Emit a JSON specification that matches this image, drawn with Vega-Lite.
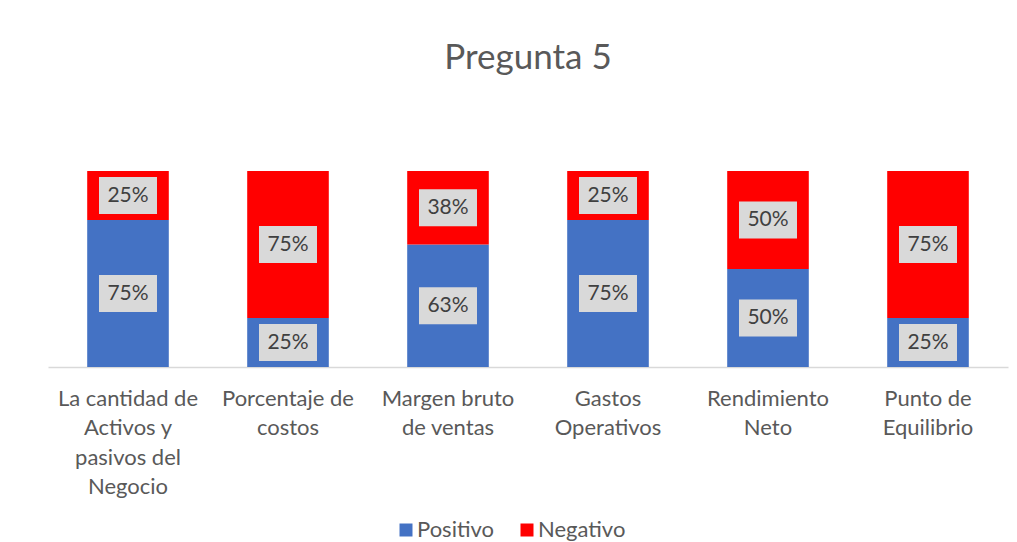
{
  "$schema": "https://vega.github.io/schema/vega-lite/v6.json",
  "autosize": {"type": "none"},
  "width": 960,
  "height": 196,
  "padding": {"left": 48, "top": 171, "right": 9, "bottom": 175},
  "background": "white",
  "title": {"text": "Pregunta 5", "font": "Lato", "fontSize": 35, "fontWeight": "normal", "color": "#595959", "anchor": "middle", "baseline": "alphabetic", "offset": 67},
  "data": {"values": [
    {"categoria": "La cantidad de Activos y pasivos del Negocio", "serie": "Positivo", "valor": 0.75},
    {"categoria": "La cantidad de Activos y pasivos del Negocio", "serie": "Negativo", "valor": 0.25},
    {"categoria": "Porcentaje de costos", "serie": "Positivo", "valor": 0.25},
    {"categoria": "Porcentaje de costos", "serie": "Negativo", "valor": 0.75},
    {"categoria": "Margen bruto de ventas", "serie": "Positivo", "valor": 0.625},
    {"categoria": "Margen bruto de ventas", "serie": "Negativo", "valor": 0.375},
    {"categoria": "Gastos Operativos", "serie": "Positivo", "valor": 0.75},
    {"categoria": "Gastos Operativos", "serie": "Negativo", "valor": 0.25},
    {"categoria": "Rendimiento Neto", "serie": "Positivo", "valor": 0.5},
    {"categoria": "Rendimiento Neto", "serie": "Negativo", "valor": 0.5},
    {"categoria": "Punto de Equilibrio", "serie": "Positivo", "valor": 0.25},
    {"categoria": "Punto de Equilibrio", "serie": "Negativo", "valor": 0.75}
  ]},
  "transform": [
    {"stack": "valor", "groupby": ["categoria"], "sort": [{"field": "serie", "order": "descending"}], "as": ["v0", "v1"]},
    {"calculate": "(datum.v0 + datum.v1) / 2", "as": "vmid"}
  ],
  "encoding": {
    "x": {
      "field": "categoria", "type": "nominal", "sort": null,
      "scale": {"paddingInner": 0.49, "paddingOuter": 0.245},
      "axis": {
        "title": null, "labelAngle": 0, "ticks": false,
        "domainColor": "#d9d9d9", "domainWidth": 1.5,
        "labelFont": "Lato", "labelFontSize": 22, "labelColor": "#595959",
        "labelLineHeight": 29.5, "labelPadding": 21, "labelBaseline": "top",
        "labelExpr": "datum.label == 'La cantidad de Activos y pasivos del Negocio' ? ['La cantidad de','Activos y','pasivos del','Negocio'] : datum.label == 'Porcentaje de costos' ? ['Porcentaje de','costos'] : datum.label == 'Margen bruto de ventas' ? ['Margen bruto','de ventas'] : datum.label == 'Gastos Operativos' ? ['Gastos','Operativos'] : datum.label == 'Rendimiento Neto' ? ['Rendimiento','Neto'] : ['Punto de','Equilibrio']"
      }
    }
  },
  "layer": [
    {
      "mark": {"type": "bar"},
      "encoding": {
        "y": {"field": "v0", "type": "quantitative", "scale": {"domain": [0, 1]}, "axis": null},
        "y2": {"field": "v1"},
        "color": {
          "field": "serie", "type": "nominal",
          "scale": {"domain": ["Positivo", "Negativo"], "range": ["#4472C4", "#FF0000"]},
          "legend": {
            "title": null, "orient": "none", "legendX": 347, "legendY": 348, "direction": "horizontal",
            "symbolType": "square", "symbolSize": 169, "symbolStrokeWidth": 0,
            "labelFont": "Lato", "labelFontSize": 22, "labelColor": "#595959",
            "labelOffset": 0, "columnPadding": 22
          }
        }
      }
    },
    {
      "mark": {"type": "point", "shape": "M-1,-0.64L1,-0.64L1,0.64L-1,0.64Z", "filled": true, "color": "#d9d9d9", "opacity": 1, "size": 3364, "strokeWidth": 0},
      "encoding": {"y": {"field": "vmid", "type": "quantitative", "scale": {"domain": [0, 1]}}}
    },
    {
      "mark": {"type": "text", "font": "Lato", "fontSize": 21, "color": "#404040", "baseline": "middle"},
      "encoding": {
        "y": {"field": "vmid", "type": "quantitative", "scale": {"domain": [0, 1]}},
        "text": {"field": "valor", "type": "quantitative", "format": ".0%"}
      }
    }
  ],
  "config": {"view": {"stroke": null}}
}
